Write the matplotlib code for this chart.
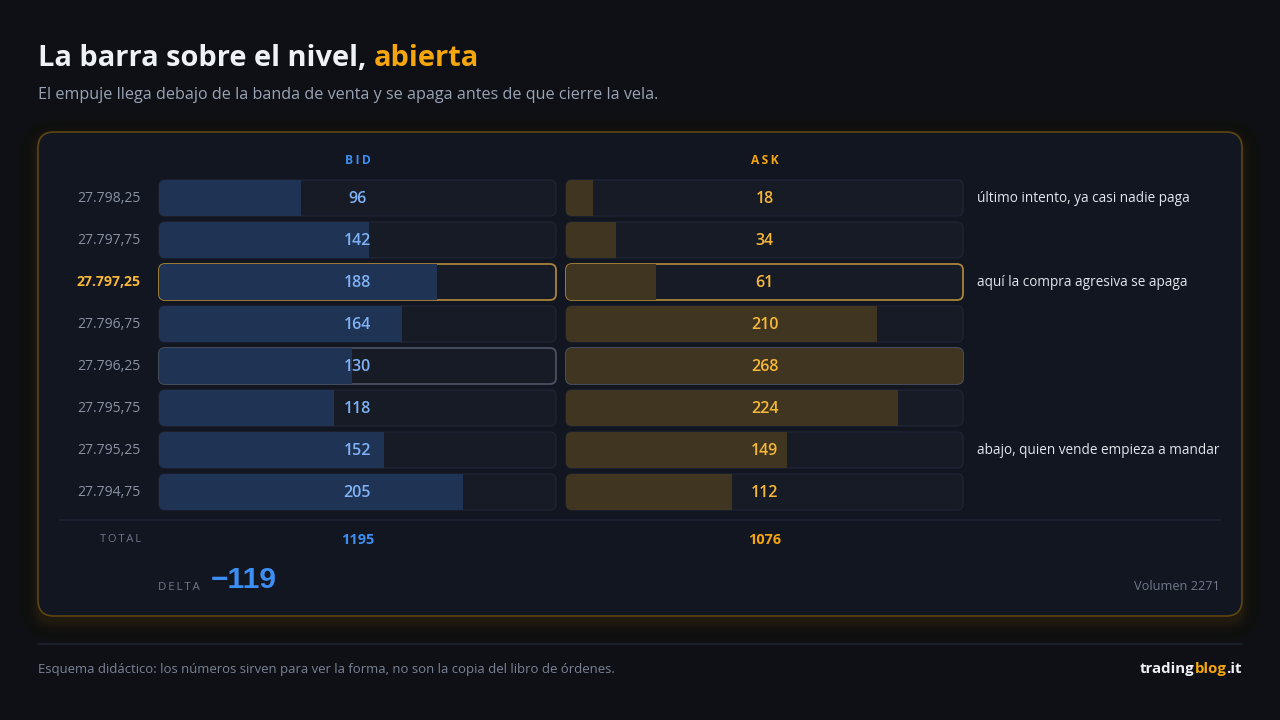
import numpy as np
import matplotlib.pyplot as plt
from matplotlib.patches import FancyBboxPatch

# ---- data ----
prices = ['27.798,25', '27.797,75', '27.797,25', '27.796,75',
          '27.796,25', '27.795,75', '27.795,25', '27.794,75']
bid = [96, 142, 188, 164, 130, 118, 152, 205]
ask = [18, 34, 61, 210, 268, 224, 149, 112]
notes = {0: 'último intento, ya casi nadie paga',
         2: 'aquí la compra agresiva se apaga',
         6: 'abajo, quien vende empieza a mandar'}
level_row = 2      # the level (gold frame)
peak_row = 4       # biggest ask (grey frame)

title_a = 'La barra sobre el nivel, '
title_b = 'abierta'
subtitle = 'El empuje llega debajo de la banda de venta y se apaga antes de que cierre la vela.'
footnote = 'Esquema didáctico: los números sirven para ver la forma, no son la copia del libro de órdenes.'

# ---- colours ----
BG = '#0e1016'
PANEL = '#121620'
TRACK = '#171b26'
TRACK_EDGE = '#1f2433'
BID_BAR = '#1f3354'
ASK_BAR = '#403520'
BLUE = '#3d8ef2'
BLUE_TXT = '#7fb2f6'
GOLD = '#f5a60c'
GOLD_TXT = '#f7b838'
GREY = '#8a92a2'
WHITE = '#eef1f6'

plt.rcParams['font.family'] = ['Open Sans', 'DejaVu Sans']

fig = plt.figure(figsize=(12.8, 7.2), dpi=100, facecolor=BG)
ax = fig.add_axes([0, 0, 1, 1])
ax.set_xlim(0, 1280)
ax.set_ylim(720, 0)
ax.axis('off')
ax.set_facecolor(BG)

def px(s):
    return s * 72 / 100.

# ---- panel with soft glow ----
px0, py0, pw, ph = 38, 132, 1204, 484
for k in range(36, 0, -1):
    g = FancyBboxPatch((px0 - k, py0 - k + 6), pw + 2 * k, ph + 2 * k,
                       boxstyle='round,pad=0,rounding_size=%d' % (16 + k),
                       fc='#b07e0e', ec='none', alpha=0.024 * np.exp(-k / 9.),
                       zorder=1)
    ax.add_patch(g)
ax.add_patch(FancyBboxPatch((px0, py0), pw, ph, boxstyle='round,pad=0,rounding_size=16',
                            fc=PANEL, ec='#5e4613', lw=1.2, zorder=2))

# ---- titles ----
t1 = ax.text(38, 58, title_a, color=WHITE, fontsize=px(29), fontweight='bold',
             va='center', ha='left', zorder=5)
fig.canvas.draw()
r = fig.canvas.get_renderer()
bb = t1.get_window_extent(r)
ax.text(bb.x1, 58, title_b, color=GOLD, fontsize=px(29), fontweight='bold',
        va='center', ha='left', zorder=5)
ax.text(38, 95, subtitle, color='#9aa3b4', fontsize=px(16.1), va='center', ha='left')

# ---- layout of rows ----
row_y0 = 198
row_step = 42
track_h = 36
bid_x0, ask_x0, track_w = 159, 566, 397
n = len(prices)
vmax = max(max(bid), max(ask))

ax.text(bid_x0 + track_w / 2, 161, 'B\u2009I\u2009D', color=BLUE, fontsize=px(12),
        fontweight='bold', ha='center', va='center')
ax.text(ask_x0 + track_w / 2, 161, 'A\u2009S\u2009K', color=GOLD, fontsize=px(12),
        fontweight='bold', ha='center', va='center')

# axes for bars (value scale), aligned with tracks
top = row_y0 - row_step / 2
bottom = row_y0 + row_step * (n - 0.5)
bar_axes = []
for x0 in (bid_x0, ask_x0):
    a = fig.add_axes([x0 / 1280, 1 - bottom / 720, track_w / 1280, (bottom - top) / 720])
    a.set_xlim(0, vmax)
    a.set_ylim(n - 0.5, -0.5)
    a.axis('off')
    a.patch.set_alpha(0)
    bar_axes.append(a)
ax_bid, ax_ask = bar_axes

rows = np.arange(n)
bid_bars = ax_bid.barh(rows, bid, height=track_h / row_step, color=BID_BAR, zorder=3)
ask_bars = ax_ask.barh(rows, ask, height=track_h / row_step, color=ASK_BAR, zorder=3)

frames = []
for i in range(n):
    yc = row_y0 + i * row_step
    if i == level_row:
        ec, lw = '#a9843a', 1.3
    elif i == peak_row:
        ec, lw = '#4a5162', 1.3
    else:
        ec, lw = TRACK_EDGE, 1.0
    for x0, bars in ((bid_x0, bid_bars), (ask_x0, ask_bars)):
        tr = FancyBboxPatch((x0, yc - track_h / 2), track_w, track_h,
                            boxstyle='round,pad=0,rounding_size=6',
                            fc=TRACK, ec='none', zorder=3)
        ax.add_patch(tr)
        bars[i].set_clip_path(tr)
        frames.append(FancyBboxPatch((x0, yc - track_h / 2), track_w, track_h,
                                     boxstyle='round,pad=0,rounding_size=6',
                                     fc='none', ec=ec, lw=lw, zorder=6))
    ax_bid.text(vmax / 2, i + 0.03, str(bid[i]), color=BLUE_TXT,
                fontsize=px(16), fontweight='semibold', ha='center', va='center', zorder=7)
    ax_ask.text(vmax / 2, i + 0.03, str(ask[i]), color=GOLD_TXT,
                fontsize=px(16), fontweight='semibold', ha='center', va='center', zorder=7)
    if i == level_row:
        ax.text(141, yc, prices[i], color=GOLD_TXT, fontsize=px(14), fontweight='bold',
                ha='right', va='center')
    else:
        ax.text(141, yc, prices[i], color=GREY, fontsize=px(14), ha='right', va='center')
    if i in notes:
        ax.text(977, yc, notes[i], color='#e1e5ec', fontsize=px(13.6), ha='left', va='center')

# bar axes above the track backgrounds, frames on an overlay
for a in bar_axes:
    a.set_zorder(ax.get_zorder() + 1)
top_ax = fig.add_axes([0, 0, 1, 1])
top_ax.set_xlim(0, 1280)
top_ax.set_ylim(720, 0)
top_ax.axis('off')
top_ax.patch.set_alpha(0)
top_ax.set_zorder(ax_bid.get_zorder() - 0.5)
for p in frames:
    top_ax.add_patch(p)

# ---- totals ----
ax.plot([60, 1220], [519.5, 519.5], color='#1e2331', lw=1.2, zorder=3)
total_bid = sum(bid)
total_ask = sum(ask)
delta = total_ask - total_bid
ax.text(141, 540, 'T\u2009O\u2009T\u2009A\u2009L', color='#6f7789', fontsize=px(11),
        ha='right', va='center')
ax.text(bid_x0 + track_w / 2, 540, str(total_bid), color=BLUE, fontsize=px(14.5),
        fontweight='bold', ha='center', va='center')
ax.text(ask_x0 + track_w / 2, 540, str(total_ask), color=GOLD, fontsize=px(14.5),
        fontweight='bold', ha='center', va='center')
ax.text(158, 587, 'D\u2009E\u2009L\u2009T\u2009A', color='#6f7789', fontsize=px(11.5),
        ha='left', va='center')
ax.text(211, 580, '\u2212%d' % abs(delta), color=BLUE, fontsize=px(30), fontweight='bold',
        family=['Liberation Sans Narrow', 'Liberation Sans', 'DejaVu Sans'],
        ha='left', va='center')
ax.text(1220, 586, 'Volumen %d' % (total_bid + total_ask), color='#6f7789',
        fontsize=px(12.7), ha='right', va='center')

# ---- footer ----
ax.plot([38, 1242], [643.5, 643.5], color='#1e2331', lw=1.2)
ax.text(38, 670, footnote, color='#7a8294', fontsize=px(13.1), ha='left', va='center')
xr = 1242
for part, col in (('.it', WHITE), ('blog', GOLD), ('trading', WHITE)):
    t = ax.text(xr, 669, part, color=col, fontsize=px(15), fontweight='bold',
                ha='right', va='center')
    fig.canvas.draw()
    xr = xr - t.get_window_extent(fig.canvas.get_renderer()).width

fig.savefig('out.png', dpi=100, facecolor=BG)
